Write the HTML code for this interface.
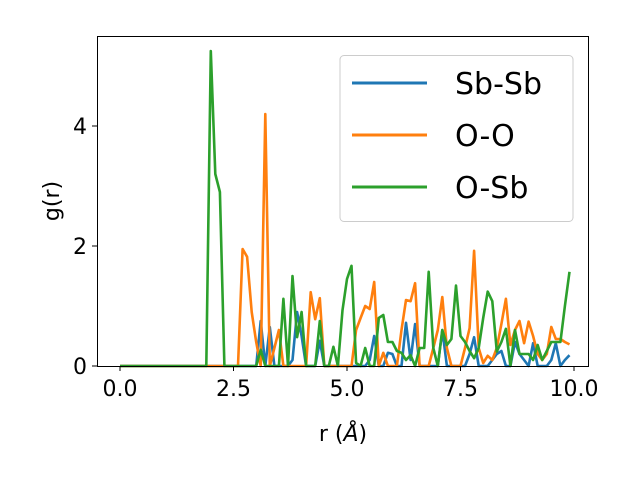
<!DOCTYPE html>
<html><head><meta charset="utf-8"><style>
body{margin:0;background:#fff}
svg text{font-family:"DejaVu Sans","Liberation Sans",sans-serif;fill:#000}
</style></head><body>
<svg id="chart" width="640" height="480" xmlns="http://www.w3.org/2000/svg">
<rect x="0" y="0" width="640" height="480" fill="#fff"/>
<g id="series"></g>
<rect x="97.5" y="36.5" width="491" height="330" fill="none" stroke="#000" stroke-width="1"/>
<g id="xticks"></g>
<g id="yticks"></g>
<text x="343" y="441" font-size="22" text-anchor="middle">r (<tspan font-style="italic">Å</tspan>)</text>
<text transform="translate(59,201) rotate(-90)" font-size="22" text-anchor="middle">g(r)</text>
<g>
<rect x="340" y="55.5" width="233" height="166" rx="4" fill="#fff" fill-opacity="0.8" stroke="#ccc"/>
<line x1="352" y1="83" x2="427" y2="83" stroke="#1f77b4" stroke-width="3"/>
<text x="455" y="94" font-size="30">Sb-Sb</text>
<line x1="352" y1="135" x2="427" y2="135" stroke="#ff7f0e" stroke-width="3"/>
<text x="455" y="146" font-size="30">O-O</text>
<line x1="352" y1="187" x2="427" y2="187" stroke="#2ca02c" stroke-width="3"/>
<text x="455" y="198" font-size="30">O-Sb</text>
</g>
</svg>
<script>
const rValues = Array.from({length:100},(_,i)=>i/10);
const sbSb = [0,0,0,0,0,0,0,0,0,0, 0,0,0,0,0,0,0,0,0,0, 0,0,0,0,0,0,0,0,0,0,
 0,0.75,0,0.65,0,0,0,0,0.1,0.9, 0.5,0,0,0,0.42,0,0,0,0,0, 0,0,0,0,0,0.1,0.5,0,0,0.22,
 0.2,0,0,0.72,0.1,0.7,0,0,0,0, 0,0.6,0,0,0,0,0,0.2,0.48,0, 0,0,0.1,0.2,0.25,0,0,0.4,0.2,0.1,
 0,0.38,0,0,0,0.1,0.38,0,0.1,0.18];
const oO = [0,0,0,0,0,0,0,0,0,0, 0,0,0,0,0,0,0,0,0,0, 0,0,0,0,0,0,0,1.95,1.82,0.9,
 0.4,0,4.2,0,0.3,0.6,0,0,0,0, 0,0,1.23,0.78,1.13,0,0,0,0,0, 0,0,0.6,0.8,1.0,0.95,1.4,0,0.22,0,
 0,0,0.6,1.1,1.08,1.38,0,0,0,0.3, 0.6,1.15,0.3,0,0,0,0.3,0.63,1.92,0.3, 0.05,0.17,0.1,0.3,0.7,1.12,0.35,0.6,0.75,0.38,
 0.74,0.5,0.2,0.1,0.2,0.65,0.45,0.45,0.4,0.36];
const oSb = [0,0,0,0,0,0,0,0,0,0, 0,0,0,0,0,0,0,0,0,0, 5.25,3.2,2.9,0,0,0,0,0,0,0,
 0,0.27,0,0,0,0,1.12,0,1.5,0.48, 0.9,0,0,0,0.75,0,0,0.32,0,0.93, 1.45,1.67,0.05,0,0.3,0,0,0.8,0.85,0.4,
 0.4,0.25,0.22,0.1,0.18,0,0.3,0.3,1.57,0.3, 0,0.6,0.35,0.45,1.34,0.5,0.4,0.25,0.13,0.3, 0.8,1.24,1.08,0.24,0.4,0.62,0,0.6,0.2,0.2,
 0.2,0.1,0.35,0.1,0.25,0.4,0.4,0.4,1.0,1.57];
const xTickValues = [0,2.5,5,7.5,10];
const xTickLabels = ["0.0","2.5","5.0","7.5","10.0"];
const yTickValues = [0,2,4];
const yTickLabels = ["0","2","4"];

const NS="http://www.w3.org/2000/svg";
function xs(v){return 120+45.4*v;}
function ys(v){return 366-60*v;}
const seriesG=document.getElementById('series');
function drawLine(vals,color,name){
  const p=document.createElementNS(NS,'polyline');
  p.setAttribute('points',vals.map((v,i)=>xs(rValues[i]).toFixed(1)+','+ys(v).toFixed(1)).join(' '));
  p.setAttribute('fill','none');p.setAttribute('stroke',color);
  p.setAttribute('stroke-width','2.6');p.setAttribute('stroke-linejoin','round');
  
  
  seriesG.appendChild(p);
}
drawLine(sbSb,'#1f77b4','line-sb-sb');
drawLine(oO,'#ff7f0e','line-o-o');
drawLine(oSb,'#2ca02c','line-o-sb');
const xg=document.getElementById('xticks');
xTickValues.forEach((v,i)=>{
  const l=document.createElementNS(NS,'line');
  l.setAttribute('x1',xs(v));l.setAttribute('x2',xs(v));l.setAttribute('y1',366);l.setAttribute('y2',371);
  l.setAttribute('stroke','#000');
  
  
  xg.appendChild(l);
  const t=document.createElementNS(NS,'text');
  t.setAttribute('x',xs(v));t.setAttribute('y',396);t.setAttribute('font-size','22');t.setAttribute('text-anchor','middle');
  t.textContent=xTickLabels[i];
  
  
  xg.appendChild(t);
});
const yg=document.getElementById('yticks');
yTickValues.forEach((v,i)=>{
  const l=document.createElementNS(NS,'line');
  l.setAttribute('x1',92);l.setAttribute('x2',97);l.setAttribute('y1',ys(v));l.setAttribute('y2',ys(v));
  l.setAttribute('stroke','#000');
  
  
  yg.appendChild(l);
  const t=document.createElementNS(NS,'text');
  t.setAttribute('x',87);t.setAttribute('y',ys(v)+8);t.setAttribute('font-size','22');t.setAttribute('text-anchor','end');
  t.textContent=yTickLabels[i];
  
  
  yg.appendChild(t);
});
</script>
</body></html>
